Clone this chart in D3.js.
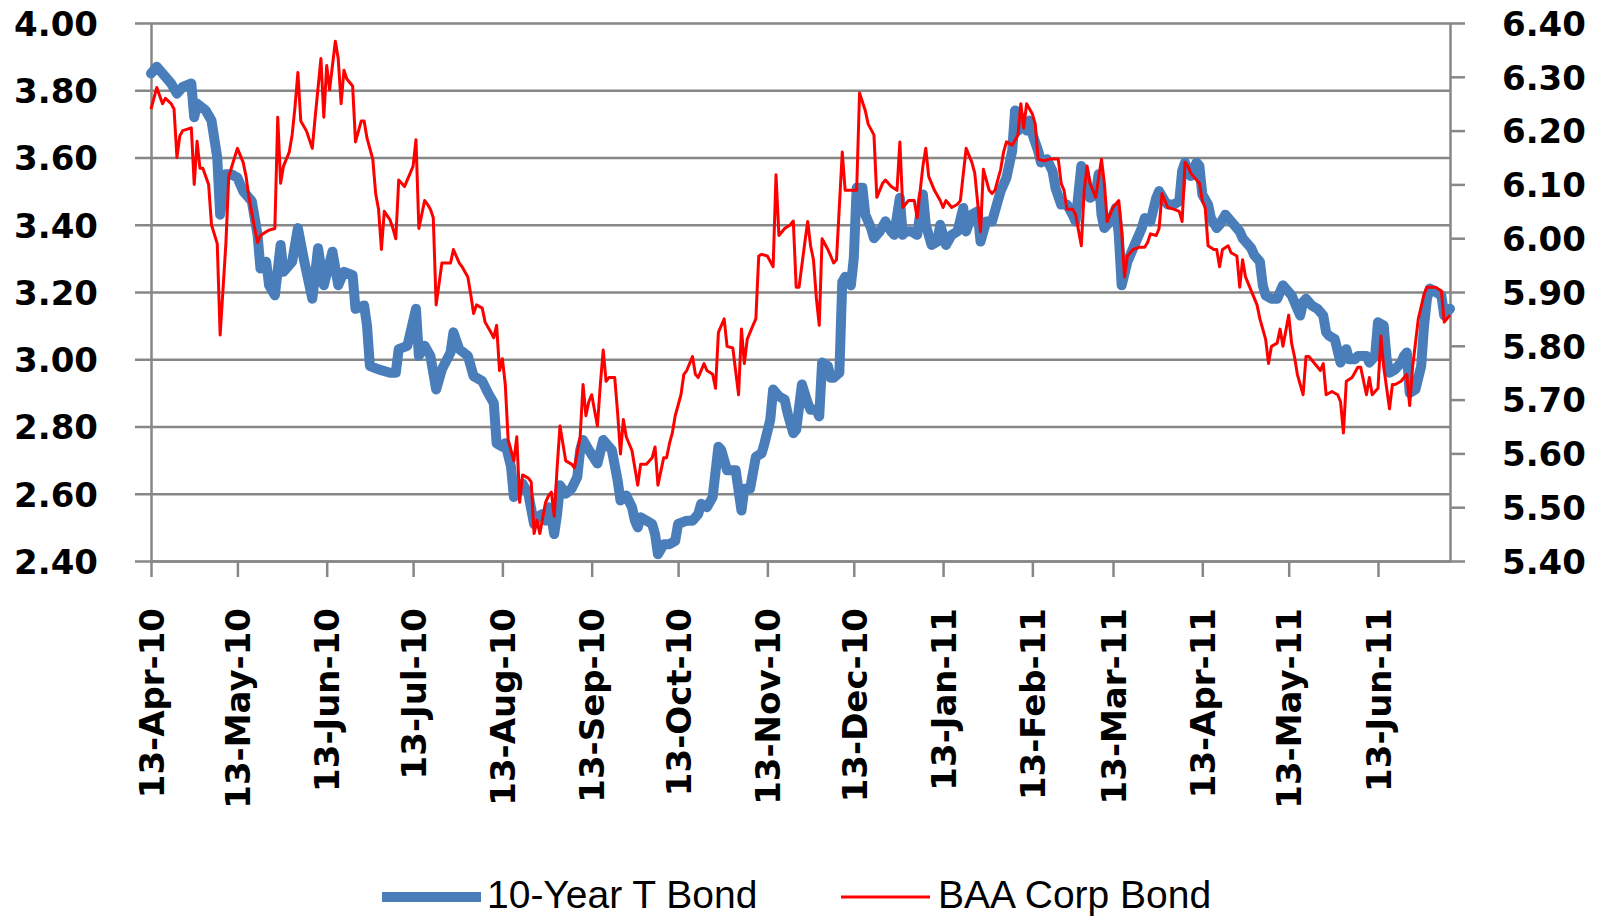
<!DOCTYPE html>
<html lang="en">
<head>
<meta charset="utf-8">
<title>10-Year T Bond vs BAA Corp Bond</title>
<script src="https://d3js.org/d3.v7.min.js"></script>
<style>
  body { margin: 0; background: #fff; }
  .tick text { font-family: "DejaVu Sans", Verdana, sans-serif; font-weight: bold; font-size: 34px; fill: #000; }
  .legend text { font-family: "Liberation Sans", Arial, sans-serif; font-size: 39px; fill: #000; }
</style>
</head>
<body>
<script>
// 10-Year T Bond (left axis)
var tDates = [
  "2010-04-13","2010-04-15","2010-04-18","2010-04-20","2010-04-22","2010-04-24","2010-04-27","2010-04-28","2010-04-29",
  "2010-05-02","2010-05-04","2010-05-06","2010-05-07","2010-05-09","2010-05-11","2010-05-13","2010-05-15","2010-05-18","2010-05-20","2010-05-21","2010-05-23","2010-05-24","2010-05-26","2010-05-28","2010-05-29",
  "2010-06-01","2010-06-03","2010-06-05","2010-06-08","2010-06-10","2010-06-12","2010-06-15","2010-06-17","2010-06-19","2010-06-22","2010-06-23","2010-06-26","2010-06-27","2010-06-28",
  "2010-07-01","2010-07-05","2010-07-07","2010-07-08","2010-07-11","2010-07-14","2010-07-15","2010-07-17","2010-07-19","2010-07-21","2010-07-23","2010-07-26","2010-07-27","2010-07-29",
  "2010-08-01","2010-08-03","2010-08-06","2010-08-08","2010-08-10","2010-08-11","2010-08-13","2010-08-14","2010-08-16","2010-08-17","2010-08-18","2010-08-20","2010-08-22","2010-08-24","2010-08-25","2010-08-27","2010-08-28","2010-08-29","2010-08-30","2010-08-31",
  "2010-09-01","2010-09-02","2010-09-04","2010-09-06","2010-09-08","2010-09-09","2010-09-10","2010-09-12","2010-09-15","2010-09-17","2010-09-19","2010-09-20","2010-09-22","2010-09-23","2010-09-25","2010-09-27","2010-09-28","2010-09-29","2010-09-30",
  "2010-10-02","2010-10-04","2010-10-05","2010-10-06","2010-10-08","2010-10-10","2010-10-12","2010-10-13","2010-10-16","2010-10-18","2010-10-20","2010-10-21","2010-10-23","2010-10-25","2010-10-27","2010-10-28","2010-10-30","2010-10-31",
  "2010-11-02","2010-11-04","2010-11-05","2010-11-07","2010-11-09","2010-11-11","2010-11-12","2010-11-14","2010-11-15","2010-11-17","2010-11-19","2010-11-20","2010-11-22","2010-11-23","2010-11-25","2010-11-27","2010-11-28","2010-11-30",
  "2010-12-01","2010-12-02","2010-12-04","2010-12-05","2010-12-06","2010-12-08","2010-12-09","2010-12-10","2010-12-12","2010-12-13","2010-12-14","2010-12-16","2010-12-17","2010-12-19","2010-12-20","2010-12-22","2010-12-24","2010-12-26","2010-12-27","2010-12-29","2010-12-30","2010-12-31",
  "2011-01-02","2011-01-04","2011-01-06","2011-01-07","2011-01-09","2011-01-11","2011-01-12","2011-01-14","2011-01-16","2011-01-18","2011-01-20","2011-01-21","2011-01-23","2011-01-25","2011-01-26","2011-01-28","2011-01-30",
  "2011-02-01","2011-02-02","2011-02-04","2011-02-06","2011-02-07","2011-02-08","2011-02-09","2011-02-11","2011-02-12","2011-02-13","2011-02-15","2011-02-16","2011-02-18","2011-02-20","2011-02-21","2011-02-23","2011-02-25","2011-02-27","2011-02-28",
  "2011-03-02","2011-03-03","2011-03-05","2011-03-07","2011-03-08","2011-03-09","2011-03-10","2011-03-12","2011-03-14","2011-03-15","2011-03-16","2011-03-18","2011-03-20","2011-03-21","2011-03-23","2011-03-24","2011-03-26","2011-03-28","2011-03-29","2011-03-31",
  "2011-04-01","2011-04-03","2011-04-05","2011-04-06","2011-04-07","2011-04-08","2011-04-09","2011-04-11","2011-04-12","2011-04-13","2011-04-15","2011-04-16","2011-04-18","2011-04-19","2011-04-21","2011-04-22","2011-04-24","2011-04-26","2011-04-27","2011-04-28","2011-04-30",
  "2011-05-01","2011-05-03","2011-05-04","2011-05-05","2011-05-07","2011-05-09","2011-05-11","2011-05-12","2011-05-14","2011-05-15","2011-05-17","2011-05-18","2011-05-19","2011-05-21","2011-05-23","2011-05-25","2011-05-26","2011-05-27","2011-05-29","2011-05-31",
  "2011-06-02","2011-06-03","2011-06-05","2011-06-06","2011-06-09","2011-06-10","2011-06-12","2011-06-13","2011-06-15","2011-06-16","2011-06-17","2011-06-19","2011-06-21","2011-06-22","2011-06-23","2011-06-24","2011-06-26","2011-06-28","2011-06-29","2011-06-30",
  "2011-07-01","2011-07-03","2011-07-05","2011-07-06","2011-07-08"
];
var tYields = [
  3.85,3.87,3.84,3.82,3.79,3.81,3.82,3.72,3.76,
  3.74,3.71,3.60,3.43,3.55,3.55,3.54,3.50,3.47,3.37,3.27,3.29,3.22,3.19,3.34,3.26,
  3.29,3.39,3.30,3.18,3.33,3.22,3.32,3.22,3.26,3.25,3.15,3.16,3.10,2.98,
  2.97,2.96,2.96,3.03,3.04,3.15,3.01,3.04,3.01,2.91,2.97,3.02,3.08,3.03,
  3.01,2.95,2.935,2.90,2.87,2.75,2.74,2.75,2.68,2.59,2.61,2.63,2.60,2.51,2.53,2.54,2.52,2.56,2.53,2.48,
  2.54,2.625,2.60,2.615,2.65,2.73,2.76,2.73,2.69,2.76,2.74,2.73,2.64,2.58,2.595,2.56,2.52,2.50,2.53,
  2.52,2.51,2.48,2.42,2.45,2.45,2.46,2.51,2.52,2.52,2.54,2.57,2.56,2.59,2.74,2.73,2.67,2.67,
  2.67,2.55,2.615,2.615,2.71,2.72,2.75,2.82,2.91,2.89,2.88,2.84,2.78,2.79,2.925,2.87,2.85,2.85,
  2.83,2.99,2.98,2.945,2.945,2.96,3.23,3.245,3.22,3.30,3.51,3.51,3.43,3.39,3.36,3.38,3.41,3.38,3.37,3.48,3.37,3.38,
  3.38,3.37,3.49,3.40,3.34,3.35,3.40,3.34,3.37,3.38,3.45,3.38,3.43,3.44,3.35,3.41,3.41,
  3.47,3.50,3.54,3.62,3.74,3.68,3.72,3.68,3.71,3.67,3.62,3.585,3.595,3.56,3.51,3.46,3.46,3.43,3.41,
  3.575,3.56,3.48,3.49,3.55,3.43,3.39,3.41,3.45,3.37,3.22,3.29,3.33,3.35,3.39,3.42,3.41,3.48,3.50,3.47,
  3.46,3.46,3.47,3.56,3.585,3.555,3.545,3.585,3.575,3.49,3.46,3.42,3.39,3.40,3.43,3.42,3.40,3.38,3.36,3.35,3.33,
  3.31,3.29,3.22,3.19,3.18,3.18,3.22,3.21,3.19,3.17,3.13,3.17,3.18,3.16,3.15,3.13,3.08,3.07,3.06,2.99,
  3.03,3.00,3.00,3.01,3.01,2.99,3.01,3.11,3.10,3.00,2.96,2.97,2.99,3.01,3.02,2.90,2.91,2.98,3.10,3.18,
  3.21,3.20,3.19,3.13,3.15
];

// BAA Corp Bond (right axis)
var baaDates = [
  "2010-04-13","2010-04-15","2010-04-17","2010-04-18","2010-04-20","2010-04-21","2010-04-22","2010-04-23","2010-04-24","2010-04-27","2010-04-28","2010-04-29","2010-04-30",
  "2010-05-01","2010-05-03","2010-05-04","2010-05-06","2010-05-07","2010-05-09","2010-05-10","2010-05-13","2010-05-15","2010-05-16","2010-05-17","2010-05-19","2010-05-20","2010-05-21","2010-05-23","2010-05-24","2010-05-26","2010-05-27","2010-05-28","2010-05-29","2010-05-31",
  "2010-06-01","2010-06-02","2010-06-03","2010-06-04","2010-06-06","2010-06-08","2010-06-09","2010-06-11","2010-06-12","2010-06-13","2010-06-14","2010-06-16","2010-06-17","2010-06-18","2010-06-19","2010-06-20","2010-06-22","2010-06-23","2010-06-25","2010-06-26","2010-06-27","2010-06-29","2010-06-30",
  "2010-07-01","2010-07-02","2010-07-03","2010-07-05","2010-07-06","2010-07-07","2010-07-08","2010-07-10","2010-07-12","2010-07-13","2010-07-14","2010-07-15","2010-07-17","2010-07-18","2010-07-19","2010-07-20","2010-07-21","2010-07-23","2010-07-25","2010-07-26","2010-07-27","2010-07-29","2010-07-30",
  "2010-08-01","2010-08-02","2010-08-03","2010-08-04","2010-08-06","2010-08-07","2010-08-09","2010-08-10","2010-08-11","2010-08-12","2010-08-13","2010-08-14","2010-08-15","2010-08-17","2010-08-18","2010-08-19","2010-08-20","2010-08-22","2010-08-23","2010-08-24","2010-08-25","2010-08-26","2010-08-28","2010-08-29","2010-08-30","2010-08-31",
  "2010-09-01","2010-09-02","2010-09-04","2010-09-06","2010-09-07","2010-09-09","2010-09-10","2010-09-11","2010-09-12","2010-09-13","2010-09-15","2010-09-16","2010-09-17","2010-09-18","2010-09-19","2010-09-21","2010-09-22","2010-09-23","2010-09-24","2010-09-25","2010-09-27","2010-09-28","2010-09-29","2010-09-30",
  "2010-10-02","2010-10-04","2010-10-05","2010-10-06","2010-10-08","2010-10-09","2010-10-10","2010-10-11","2010-10-12","2010-10-14","2010-10-15","2010-10-16","2010-10-18","2010-10-19","2010-10-20","2010-10-22","2010-10-23","2010-10-25","2010-10-26","2010-10-27","2010-10-29","2010-10-30",
  "2010-11-01","2010-11-03","2010-11-04","2010-11-05","2010-11-06","2010-11-08","2010-11-09","2010-11-10","2010-11-11","2010-11-13","2010-11-15","2010-11-16","2010-11-17","2010-11-19","2010-11-21","2010-11-22","2010-11-23","2010-11-24","2010-11-26","2010-11-27","2010-11-28","2010-11-29","2010-11-30",
  "2010-12-01","2010-12-02","2010-12-04","2010-12-05","2010-12-06","2010-12-07","2010-12-09","2010-12-10","2010-12-11","2010-12-13","2010-12-14","2010-12-15","2010-12-17","2010-12-18","2010-12-20","2010-12-21","2010-12-23","2010-12-24","2010-12-26","2010-12-28","2010-12-29","2010-12-30",
  "2011-01-01","2011-01-02","2011-01-03","2011-01-04","2011-01-06","2011-01-07","2011-01-08","2011-01-09","2011-01-10","2011-01-12","2011-01-13","2011-01-14","2011-01-16","2011-01-18","2011-01-19","2011-01-21","2011-01-23","2011-01-24","2011-01-26","2011-01-27","2011-01-29","2011-01-30","2011-01-31",
  "2011-02-02","2011-02-03","2011-02-04","2011-02-06","2011-02-08","2011-02-09","2011-02-10","2011-02-11","2011-02-13","2011-02-14","2011-02-15","2011-02-17","2011-02-19","2011-02-21","2011-02-22","2011-02-23","2011-02-24","2011-02-25","2011-02-27","2011-02-28",
  "2011-03-02","2011-03-03","2011-03-04","2011-03-05","2011-03-07","2011-03-09","2011-03-10","2011-03-11","2011-03-13","2011-03-15","2011-03-16","2011-03-17","2011-03-18","2011-03-20","2011-03-22","2011-03-24","2011-03-25","2011-03-26","2011-03-28","2011-03-29","2011-03-30",
  "2011-04-01","2011-04-03","2011-04-05","2011-04-06","2011-04-07","2011-04-08","2011-04-09","2011-04-11","2011-04-12","2011-04-13","2011-04-14","2011-04-15","2011-04-17","2011-04-18","2011-04-19","2011-04-20","2011-04-22","2011-04-23","2011-04-25","2011-04-26","2011-04-27","2011-04-28","2011-04-30",
  "2011-05-01","2011-05-02","2011-05-03","2011-05-05","2011-05-06","2011-05-07","2011-05-09","2011-05-10","2011-05-11","2011-05-13","2011-05-14","2011-05-15","2011-05-16","2011-05-18","2011-05-19","2011-05-20","2011-05-22","2011-05-24","2011-05-25","2011-05-26","2011-05-28","2011-05-30","2011-05-31",
  "2011-06-01","2011-06-02","2011-06-04","2011-06-06","2011-06-07","2011-06-09","2011-06-10","2011-06-11","2011-06-12","2011-06-13","2011-06-14","2011-06-15","2011-06-17","2011-06-18","2011-06-19","2011-06-21","2011-06-23","2011-06-24","2011-06-25","2011-06-26","2011-06-27","2011-06-29","2011-06-30",
  "2011-07-02","2011-07-03","2011-07-05","2011-07-06","2011-07-08"
];
var baaYields = [
  6.24,6.28,6.25,6.26,6.25,6.24,6.15,6.19,6.20,6.205,6.10,6.18,6.13,
  6.13,6.10,6.025,5.99,5.82,5.99,6.115,6.167,6.141,6.115,6.076,6.018,5.992,6.005,6.012,6.015,6.018,6.225,6.102,6.134,6.16,
  6.192,6.244,6.308,6.218,6.199,6.167,6.225,6.334,6.225,6.321,6.276,6.366,6.334,6.25,6.312,6.296,6.283,6.179,6.218,6.218,6.186,6.147,6.083,
  6.054,5.979,6.05,6.034,6.018,5.999,6.108,6.096,6.121,6.134,6.183,6.018,6.07,6.063,6.054,6.038,5.876,5.954,5.954,5.954,5.979,5.954,5.947,
  5.928,5.896,5.86,5.876,5.87,5.844,5.825,5.815,5.838,5.754,5.776,5.728,5.625,5.586,5.631,5.509,5.56,5.554,5.547,5.451,5.476,5.451,5.509,5.521,5.528,5.483,
  5.573,5.651,5.586,5.58,5.573,5.631,5.728,5.67,5.696,5.709,5.651,5.728,5.792,5.734,5.741,5.741,5.676,5.599,5.663,5.631,5.605,5.573,5.541,5.58,
  5.58,5.592,5.612,5.541,5.592,5.592,5.618,5.638,5.67,5.709,5.747,5.754,5.78,5.747,5.741,5.767,5.754,5.747,5.721,5.825,5.85,5.799,
  5.796,5.709,5.831,5.767,5.812,5.838,5.85,5.967,5.97,5.967,5.947,6.118,6.005,6.018,6.025,6.032,5.909,5.909,5.992,6.031,5.986,5.96,5.889,
  5.838,5.999,5.979,5.967,5.954,5.96,6.16,6.089,6.089,6.089,6.089,6.27,6.237,6.212,6.192,6.076,6.102,6.108,6.096,6.089,6.179,6.057,
  6.07,6.07,6.07,6.038,6.134,6.167,6.115,6.102,6.089,6.07,6.057,6.07,6.057,6.063,6.07,6.167,6.141,6.121,6.012,6.128,6.089,6.083,6.089,
  6.128,6.16,6.179,6.173,6.192,6.25,6.205,6.25,6.231,6.212,6.147,6.144,6.147,6.147,6.147,6.102,6.089,6.054,6.054,6.044,
  5.986,6.089,6.134,6.102,6.076,6.147,6.102,6.031,6.057,6.07,6.012,5.928,5.967,5.979,5.983,5.983,5.992,6.008,6.005,6.018,6.083,
  6.057,6.054,6.05,6.031,6.141,6.134,6.121,6.108,6.102,6.07,6.057,5.986,5.979,5.979,5.947,5.979,5.986,5.973,5.967,5.909,5.96,5.928,5.902,
  5.889,5.876,5.85,5.812,5.767,5.799,5.805,5.831,5.799,5.857,5.805,5.78,5.747,5.709,5.78,5.78,5.767,5.754,5.767,5.709,5.715,5.709,5.696,
  5.638,5.734,5.741,5.76,5.76,5.709,5.741,5.709,5.715,5.721,5.818,5.76,5.683,5.728,5.728,5.734,5.747,5.689,5.76,5.805,5.85,5.896,5.909,
  5.909,5.909,5.902,5.844,5.857
];

var leftTicks = [2.4, 2.6, 2.8, 3.0, 3.2, 3.4, 3.6, 3.8, 4.0];
var rightTicks = [5.4, 5.5, 5.6, 5.7, 5.8, 5.9, 6.0, 6.1, 6.2, 6.3, 6.4];
var monthTicks = ["2010-04-13","2010-05-13","2010-06-13","2010-07-13","2010-08-13","2010-09-13","2010-10-13",
                  "2010-11-13","2010-12-13","2011-01-13","2011-02-13","2011-03-13","2011-04-13","2011-05-13","2011-06-13"];
var seriesNames = ["10-Year T Bond", "BAA Corp Bond"];
var seriesColors = ["#4a7ebb", "#ff0000"];

var width = 1598, height = 918;
var plot = { left: 151, right: 1450, top: 23, bottom: 561 };
var gridColor = "#878787";
var parse = d3.timeParse("%Y-%m-%d");

var tData = tDates.map(function(d, i) { return { date: parse(d), value: tYields[i] }; });
var baaData = baaDates.map(function(d, i) { return { date: parse(d), value: baaYields[i] }; });

var x = d3.scaleTime()
  .domain(d3.extent(tData.concat(baaData), function(d) { return d.date; }))
  .range([plot.left, plot.right]);
var yLeft = d3.scaleLinear().domain([2.4, 4.0]).range([plot.bottom, plot.top]);
var yRight = d3.scaleLinear().domain([5.4, 6.4]).range([plot.bottom, plot.top]);

var svg = d3.select("body").append("svg")
  .attr("width", width)
  .attr("height", height);

svg.append("rect").attr("width", width).attr("height", height).attr("fill", "#fff");

// horizontal gridlines
svg.append("g")
  .attr("transform", "translate(" + plot.left + ",0)")
  .attr("color", gridColor)
  .attr("stroke-width", 2.5)
  .call(d3.axisLeft(yLeft).tickValues(leftTicks).tickSize(-(plot.right - plot.left)).tickFormat(""))
  .call(function(g) { g.select(".domain").remove(); });

// left axis
svg.append("g")
  .attr("transform", "translate(" + plot.left + ",0)")
  .attr("color", gridColor)
  .attr("stroke-width", 2.5)
  .call(d3.axisLeft(yLeft).tickValues(leftTicks).tickSize(16).tickSizeOuter(0).tickPadding(37).tickFormat(d3.format(".2f")))
  .selectAll("text").attr("dy", "0.36em");

// right axis
svg.append("g")
  .attr("transform", "translate(" + plot.right + ",0)")
  .attr("color", gridColor)
  .attr("stroke-width", 2.5)
  .call(d3.axisRight(yRight).tickValues(rightTicks).tickSize(15).tickSizeOuter(0).tickPadding(37).tickFormat(d3.format(".2f")))
  .selectAll("text").attr("dy", "0.36em");

// bottom axis with rotated date labels
svg.append("g")
  .attr("transform", "translate(0," + plot.bottom + ")")
  .attr("color", gridColor)
  .attr("stroke-width", 2.5)
  .call(d3.axisBottom(x).tickValues(monthTicks.map(parse)).tickSize(16).tickSizeOuter(0).tickFormat(d3.timeFormat("%d-%b-%y")))
  .selectAll("text")
    .attr("transform", "rotate(-90)")
    .attr("x", -47)
    .attr("y", 0)
    .attr("dy", "0.36em")
    .style("text-anchor", "end");

// series lines
var tLine = d3.line()
  .x(function(d) { return x(d.date); })
  .y(function(d) { return yLeft(d.value); });
var baaLine = d3.line()
  .x(function(d) { return x(d.date); })
  .y(function(d) { return yRight(d.value); });

svg.append("path")
  .datum(tData)
  .attr("d", tLine)
  .attr("fill", "none")
  .attr("stroke", seriesColors[0])
  .attr("stroke-width", 10)
  .attr("stroke-linejoin", "round")
  .attr("stroke-linecap", "round");

svg.append("path")
  .datum(baaData)
  .attr("d", baaLine)
  .attr("fill", "none")
  .attr("stroke", seriesColors[1])
  .attr("stroke-width", 3)
  .attr("stroke-linejoin", "round");

// legend (kept just inside the bottom edge)
var legendItems = [
  { x1: 382, x2: 481, tx: 487, w: 10 },
  { x1: 841, x2: 930, tx: 938, w: 3 }
];
var legend = svg.append("g").attr("class", "legend");
legend.selectAll("line")
  .data(legendItems)
  .enter()
  .append("line")
  .attr("x1", function(d) { return d.x1; })
  .attr("x2", function(d) { return d.x2; })
  .attr("y1", 897)
  .attr("y2", 897)
  .attr("stroke", function(d, i) { return seriesColors[i]; })
  .attr("stroke-width", function(d) { return d.w; });
legend.selectAll("text")
  .data(legendItems)
  .enter()
  .append("text")
  .attr("x", function(d) { return d.tx; })
  .attr("y", 908)
  .text(function(d, i) { return seriesNames[i]; });
</script>
</body>
</html>
